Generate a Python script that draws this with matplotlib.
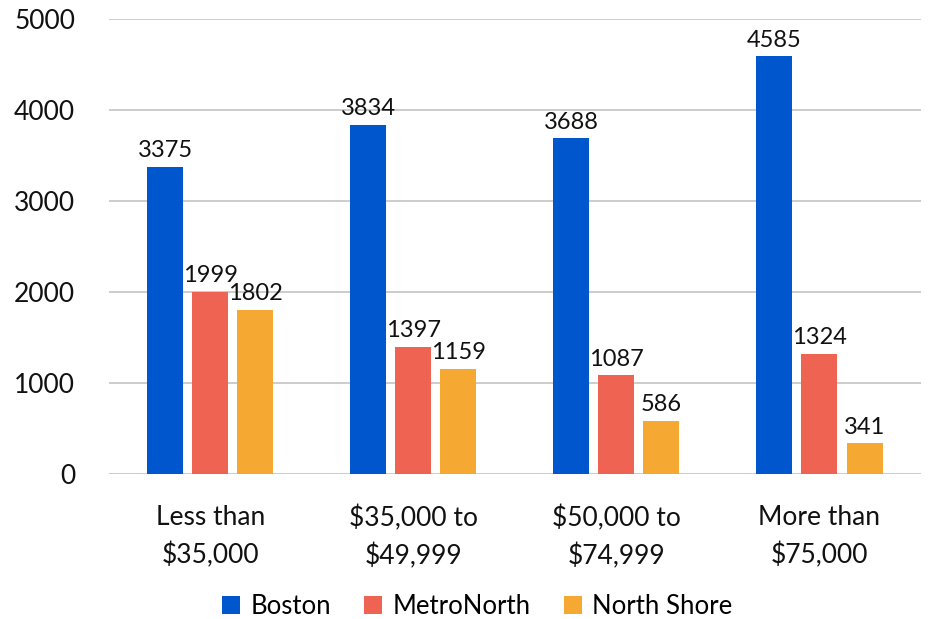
import matplotlib
matplotlib.use("Agg")
import matplotlib.pyplot as plt
import numpy as np

plt.rcParams['font.family'] = ['Lato', 'DejaVu Sans']

categories = ["Less than\n$35,000", "$35,000 to\n$49,999", "$50,000 to\n$74,999", "More than\n$75,000"]
series_names = ["Boston", "MetroNorth", "North Shore"]
boston = [3375, 3834, 3688, 4585]
metronorth = [1999, 1397, 1087, 1324]
north_shore = [1802, 1159, 586, 341]
colors = ["#0057CD", "#EE6351", "#F5A933"]

fig = plt.figure(figsize=(9.36, 6.19), dpi=100)
ax = fig.add_axes([0.116, 0.234, 0.868, 0.736])

x = np.arange(len(categories))
width = 0.177
step = 0.222
for i, (vals, name, c) in enumerate(zip([boston, metronorth, north_shore], series_names, colors)):
    bars = ax.bar(x + (i - 1) * step, vals, width, color=c, label=name, zorder=2)
    ax.bar_label(bars, labels=[str(v) for v in vals], padding=4, fontsize=17, color="#111111")

ax.set_ylim(0, 5000)
ax.set_xlim(-0.5, 3.5)
ax.set_yticks(range(0, 5001, 1000))
ax.grid(axis="y", color="#C8C8C8", linewidth=1.3, zorder=0)
ax.set_axisbelow(True)
for s in ax.spines.values():
    s.set_visible(False)
ax.tick_params(length=0, labelsize=19, colors="#111111")
ax.tick_params(axis="y", pad=24)
ax.tick_params(axis="x", pad=22)
ax.set_xticks(x)
ax.set_xticklabels(categories, linespacing=1.6)

leg = fig.legend(loc="lower center", bbox_to_anchor=(0.51, 0.0), ncol=3, frameon=False,
                 fontsize=18.5, handlelength=0.7, handleheight=0.7, handletextpad=0.4,
                 columnspacing=1.3, borderaxespad=0.0, borderpad=0.0)

fig.savefig("out.png", dpi=100)
